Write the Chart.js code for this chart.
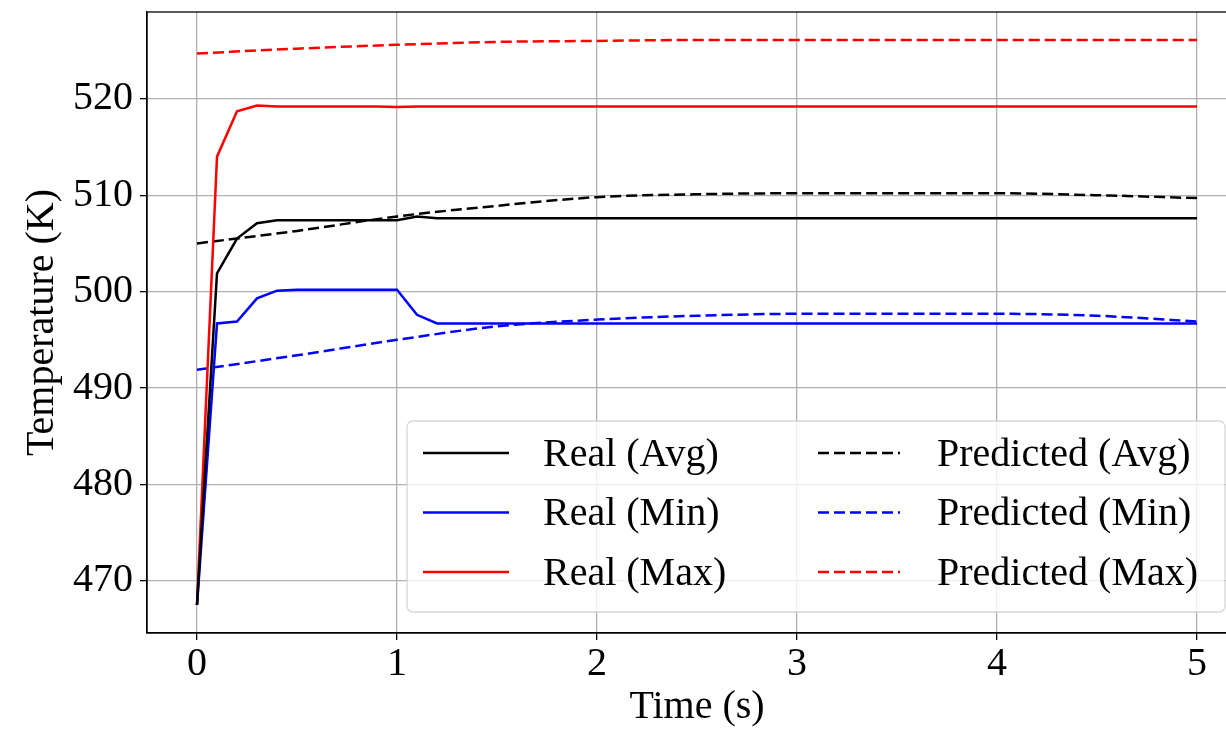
<!DOCTYPE html>
<html>
<head>
<meta charset="utf-8">
<script src="https://cdn.jsdelivr.net/npm/chart.js@4/dist/chart.umd.min.js"></script>
<style>
  html, body { margin: 0; padding: 0; background: #fff; overflow: hidden; }
  canvas { display: block; }
</style>
</head>
<body>
<canvas id="tempChart" width="1260" height="731"></canvas>
<script>
// time samples (s)
const realTime = [0, 0.1, 0.2, 0.3, 0.4, 0.5, 0.6, 0.7, 0.8, 0.9, 1.0,
                  1.1, 1.2, 1.3, 1.4, 1.5, 1.6, 1.7, 1.8, 1.9, 2.0,
                  2.1, 2.2, 2.3, 2.4, 2.5, 2.6, 2.7, 2.8, 2.9, 3.0,
                  3.1, 3.2, 3.3, 3.4, 3.5, 3.6, 3.7, 3.8, 3.9, 4.0,
                  4.1, 4.2, 4.3, 4.4, 4.5, 4.6, 4.7, 4.8, 4.9, 5.0];
const predTime = [0, 0.5, 1.0, 1.5, 2.0, 2.5, 3.0, 3.5, 4.0, 4.5, 5.0];

// measured temperatures (K)
const realAvg = [467.5, 501.9, 505.5, 507.1, 507.4, 507.4, 507.4, 507.4, 507.4, 507.4, 507.4,
                 507.8, 507.6, 507.6, 507.6, 507.6, 507.6, 507.6, 507.6, 507.6, 507.6,
                 507.6, 507.6, 507.6, 507.6, 507.6, 507.6, 507.6, 507.6, 507.6, 507.6,
                 507.6, 507.6, 507.6, 507.6, 507.6, 507.6, 507.6, 507.6, 507.6, 507.6,
                 507.6, 507.6, 507.6, 507.6, 507.6, 507.6, 507.6, 507.6, 507.6, 507.6];
const realMin = [467.5, 496.7, 496.9, 499.3, 500.1, 500.2, 500.2, 500.2, 500.2, 500.2, 500.2,
                 497.6, 496.7, 496.7, 496.7, 496.7, 496.7, 496.7, 496.7, 496.7, 496.7,
                 496.7, 496.7, 496.7, 496.7, 496.7, 496.7, 496.7, 496.7, 496.7, 496.7,
                 496.7, 496.7, 496.7, 496.7, 496.7, 496.7, 496.7, 496.7, 496.7, 496.7,
                 496.7, 496.7, 496.7, 496.7, 496.7, 496.7, 496.7, 496.7, 496.7, 496.7];
const realMax = [467.5, 514.0, 518.7, 519.3, 519.2, 519.2, 519.2, 519.2, 519.2, 519.2, 519.15,
                 519.2, 519.2, 519.2, 519.2, 519.2, 519.2, 519.2, 519.2, 519.2, 519.2,
                 519.2, 519.2, 519.2, 519.2, 519.2, 519.2, 519.2, 519.2, 519.2, 519.2,
                 519.2, 519.2, 519.2, 519.2, 519.2, 519.2, 519.2, 519.2, 519.2, 519.2,
                 519.2, 519.2, 519.2, 519.2, 519.2, 519.2, 519.2, 519.2, 519.2, 519.2];

// model predictions (K)
const predAvg = [505.0, 506.3, 507.8, 508.9, 509.8, 510.1, 510.2, 510.2, 510.2, 510.0, 509.7];
const predMin = [491.9, 493.4, 495.0, 496.4, 497.1, 497.5, 497.7, 497.7, 497.7, 497.5, 496.9];
const predMax = [524.7, 525.2, 525.6, 525.9, 526.0, 526.1, 526.1, 526.1, 526.1, 526.1, 526.1];

const yTicks = [470, 480, 490, 500, 510, 520];
const xTicks = [0, 1, 2, 3, 4, 5];

const FONT = "'Liberation Serif', 'Times New Roman', serif";
const DASH = [11, 5];

function pts(xs, ys) {
    return xs.map((x, i) => ({ x: x, y: ys[i] }));
}

function real(label, ys, color) {
    return { label: label, data: pts(realTime, ys), borderColor: color, backgroundColor: color,
             borderWidth: 2.5, pointRadius: 0, tension: 0 };
}
function pred(label, ys, color) {
    return { label: label, data: pts(predTime, ys), borderColor: color, backgroundColor: color,
             borderWidth: 2.5, pointRadius: 0, borderDash: DASH, cubicInterpolationMode: 'monotone' };
}

// frame on top + matplotlib style legend in lower right
const framePlugin = {
    id: 'frameAndLegend',
    afterDatasetsDraw(chart) {
        const ctx = chart.ctx;
        const a = chart.chartArea;
        ctx.save();
        ctx.strokeStyle = '#000';
        ctx.lineWidth = 1.3;
        ctx.strokeRect(a.left, a.top, a.right - a.left, a.bottom - a.top);

        const ds = chart.data.datasets;
        const boxR = a.right - 22, boxB = a.bottom - 21;
        const boxL = boxR - 818, boxT = boxB - 191;
        ctx.beginPath();
        ctx.roundRect(boxL, boxT, boxR - boxL, boxB - boxT, 6);
        ctx.fillStyle = 'rgba(255,255,255,0.8)';
        ctx.fill();
        ctx.strokeStyle = 'rgba(204,204,204,0.8)';
        ctx.lineWidth = 1.3;
        ctx.stroke();

        ctx.font = '40px ' + FONT;
        ctx.textBaseline = 'middle';
        ctx.fillStyle = '#000';
        const cols = [{ x0: boxL + 16, x1: boxL + 102, tx: boxL + 136 },
                      { x0: boxL + 411, x1: boxL + 493, tx: boxL + 530 }];
        ds.forEach((d, i) => {
            const c = cols[Math.floor(i / 3)];
            const y = boxT + 32 + (i % 3) * 59.5;
            ctx.beginPath();
            ctx.setLineDash(d.borderDash || []);
            ctx.strokeStyle = d.borderColor;
            ctx.lineWidth = 2.5;
            ctx.moveTo(c.x0, y);
            ctx.lineTo(c.x1, y);
            ctx.stroke();
            ctx.setLineDash([]);
            ctx.fillText(d.label, c.tx, y + 2);
        });
        ctx.restore();
    }
};

const chart = new Chart(document.getElementById('tempChart'), {
    type: 'line',
    data: {
        datasets: [
            real('Real (Avg)', realAvg, '#000000'),
            real('Real (Min)', realMin, '#0000ff'),
            real('Real (Max)', realMax, '#ff0000'),
            pred('Predicted (Avg)', predAvg, '#000000'),
            pred('Predicted (Min)', predMin, '#0000ff'),
            pred('Predicted (Max)', predMax, '#ff0000'),
        ],
    },
    options: {
        responsive: false,
        animation: false,
        devicePixelRatio: 1,
        layout: { padding: { top: 12, right: 13, left: 0, bottom: 0 } },
        plugins: { legend: { display: false }, tooltip: { enabled: false } },
        scales: {
            x: {
                type: 'linear',
                min: -0.25, max: 5.25,
                afterBuildTicks: s => { s.ticks = xTicks.map(v => ({ value: v })); },
                afterFit: s => { s.height = 98; s.paddingLeft = 0; s.paddingRight = 0; },
                ticks: { font: { family: FONT, size: 40 }, color: '#000', padding: 0, maxRotation: 0 },
                grid: { color: '#b0b0b0', lineWidth: 1.3, tickLength: 7, tickColor: '#000' },
                border: { color: '#000', width: 1.3 },
                title: { display: true, text: 'Time (s)', color: '#000',
                         font: { family: FONT, size: 40 }, padding: 0 },
            },
            y: {
                type: 'linear',
                min: 464.6, max: 529.0,
                afterBuildTicks: s => { s.ticks = yTicks.map(v => ({ value: v })); },
                afterFit: s => { s.width = 147; s.paddingTop = 0; s.paddingBottom = 0; },
                ticks: { font: { family: FONT, size: 40 }, color: '#000', padding: 7 },
                grid: { color: '#b0b0b0', lineWidth: 1.3, tickLength: 7, tickColor: '#000' },
                border: { color: '#000', width: 1.3 },
                title: { display: true, text: 'Temperature (K)', color: '#000',
                         font: { family: FONT, size: 40 }, padding: { top: 18, bottom: 0 } },
            },
        },
    },
    plugins: [framePlugin],
});
</script>
</body>
</html>
